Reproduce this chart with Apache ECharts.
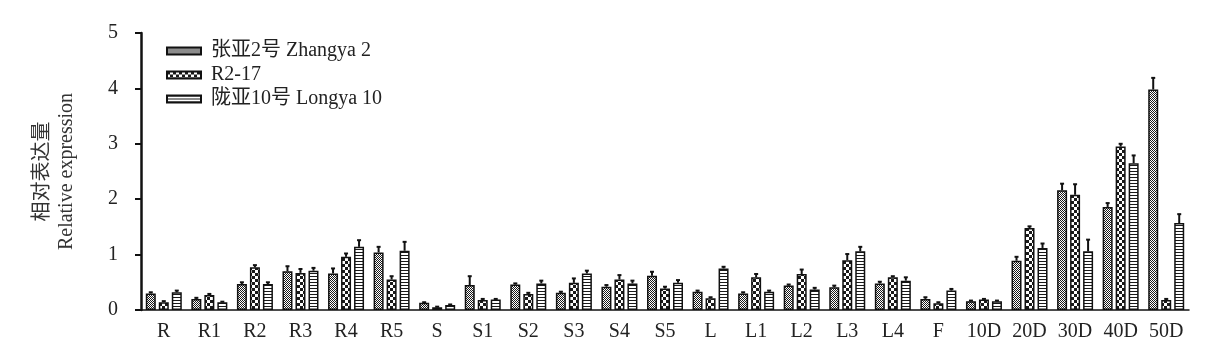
<!DOCTYPE html>
<html lang="en">
<head>
  <meta charset="UTF-8">
  <title>Relative expression</title>
  <script src="https://cdn.jsdelivr.net/npm/echarts@6/dist/echarts.min.js"></script>
  <style>
    body { margin: 0; background: #fff; }
    #chart { width: 1221px; height: 355px; }
  </style>
</head>
<body>
  <div id="chart"></div>
  <script>
    // data
    const categories = ['R', 'R1', 'R2', 'R3', 'R4', 'R5', 'S', 'S1', 'S2', 'S3', 'S4', 'S5',
      'L', 'L1', 'L2', 'L3', 'L4', 'F', '10D', '20D', '30D', '40D', '50D'];
    const seriesNames = ['张亚2号 Zhangya 2', 'R2-17', '陇亚10号 Longya 10'];

    const zhangya = [0.30, 0.20, 0.47, 0.70, 0.66, 1.04, 0.13, 0.45, 0.46, 0.31, 0.42, 0.62,
      0.33, 0.30, 0.44, 0.41, 0.48, 0.20, 0.16, 0.89, 2.16, 1.86, 3.98];
    const zhangyaErr = [0.02, 0.02, 0.03, 0.09, 0.09, 0.10, 0.01, 0.16, 0.02, 0.02, 0.03, 0.07,
      0.02, 0.02, 0.02, 0.03, 0.03, 0.03, 0.01, 0.07, 0.12, 0.07, 0.21];

    const r217 = [0.14, 0.27, 0.77, 0.67, 0.96, 0.55, 0.05, 0.18, 0.29, 0.49, 0.55, 0.39,
      0.21, 0.59, 0.65, 0.90, 0.59, 0.12, 0.19, 1.48, 2.08, 2.95, 0.18];
    const r217Err = [0.02, 0.02, 0.04, 0.07, 0.06, 0.06, 0.01, 0.02, 0.02, 0.08, 0.08, 0.03,
      0.02, 0.06, 0.08, 0.11, 0.02, 0.02, 0.01, 0.03, 0.19, 0.05, 0.02];

    const longya = [0.32, 0.14, 0.47, 0.71, 1.14, 1.07, 0.09, 0.19, 0.48, 0.66, 0.48, 0.49,
      0.75, 0.33, 0.37, 1.06, 0.53, 0.35, 0.16, 1.12, 1.06, 2.65, 1.57];
    const longyaErr = [0.03, 0.01, 0.03, 0.05, 0.12, 0.16, 0.01, 0.01, 0.05, 0.05, 0.05, 0.05,
      0.03, 0.02, 0.03, 0.08, 0.06, 0.03, 0.01, 0.08, 0.21, 0.14, 0.16];

    const values = [zhangya, r217, longya];
    const errors = [zhangyaErr, r217Err, longyaErr];

    // fill patterns like the printed figure
    function makePattern(w, h, draw) {
      const c = document.createElement('canvas');
      c.width = w; c.height = h;
      const g = c.getContext('2d');
      g.fillStyle = '#fff';
      g.fillRect(0, 0, w, h);
      g.fillStyle = '#1a1a1a';
      draw(g);
      return c;
    }
    const patterns = [
      makePattern(2, 2, g => { g.fillRect(0, 0, 1, 1); g.fillRect(1, 1, 1, 1); }),
      makePattern(6, 6, g => { g.fillRect(0, 0, 3, 3); g.fillRect(3, 3, 3, 3); }),
      makePattern(4, 3, g => { g.fillRect(0, 0, 4, 1); })
    ];

    const BAR_W = 10;
    const STEP = 13; // bar width + gap

    const font = '"Liberation Serif", "Noto Sans CJK SC", serif';

    const barSeries = seriesNames.map((name, i) => ({
      name: name,
      type: 'bar',
      data: values[i],
      barWidth: BAR_W,
      barGap: '30%',
      itemStyle: {
        color: { image: patterns[i], repeat: 'repeat' },
        borderColor: '#111',
        borderWidth: 1.5
      }
    }));

    const errData = [];
    errors.forEach((arr, s) => {
      arr.forEach((e, k) => errData.push([k, values[s][k], e, s]));
    });

    const errSeries = {
      type: 'custom',
      name: 'err',
      data: errData,
      encode: { x: 0, y: 1 },
      z: 5,
      silent: true,
      renderItem: function (params, api) {
        const base = api.coord([api.value(0), api.value(1)]);
        const top = api.coord([api.value(0), api.value(1) + api.value(2)]);
        const x = base[0] + (api.value(3) - 1) * STEP;
        const style = { stroke: '#111', lineWidth: 2 };
        return {
          type: 'group',
          children: [
            { type: 'line', shape: { x1: x, y1: base[1], x2: x, y2: top[1] }, style: style },
            { type: 'line', shape: { x1: x - 2, y1: top[1], x2: x + 2, y2: top[1] }, style: style }
          ]
        };
      }
    };

    const chart = echarts.init(document.getElementById('chart'));
    chart.setOption({
      animation: false,
      grid: { left: 141, right: 32, top: 33, bottom: 45 },
      legend: {
        data: seriesNames,
        orient: 'vertical',
        left: 161,
        top: 36,
        itemWidth: 34,
        itemHeight: 7,
        itemGap: 4,
        icon: 'rect',
        textStyle: { fontFamily: font, fontSize: 20, color: '#222', padding: [0, 0, 0, 5] }
      },
      xAxis: {
        type: 'category',
        data: categories,
        axisLine: { lineStyle: { color: '#111', width: 1.5 } },
        axisTick: { alignWithLabel: true, length: 6, interval: 0, lineStyle: { color: '#111', width: 2 } },
        axisLabel: { interval: 0, margin: 12, fontFamily: font, fontSize: 20, color: '#222' }
      },
      yAxis: {
        type: 'value',
        min: 0,
        max: 5,
        interval: 1,
        name: '相对表达量\nRelative expression',
        nameLocation: 'middle',
        nameRotate: 90,
        nameGap: 62,
        nameTextStyle: { fontFamily: font, fontSize: 20, color: '#333', lineHeight: 24 },
        axisLine: { show: true, lineStyle: { color: '#111', width: 2.5 } },
        axisTick: { show: true, length: 6, lineStyle: { color: '#111', width: 2 } },
        splitLine: { show: false },
        axisLabel: { margin: 23, fontFamily: font, fontSize: 20, color: '#222' }
      },
      series: barSeries.concat([errSeries])
    });
  </script>
</body>
</html>
